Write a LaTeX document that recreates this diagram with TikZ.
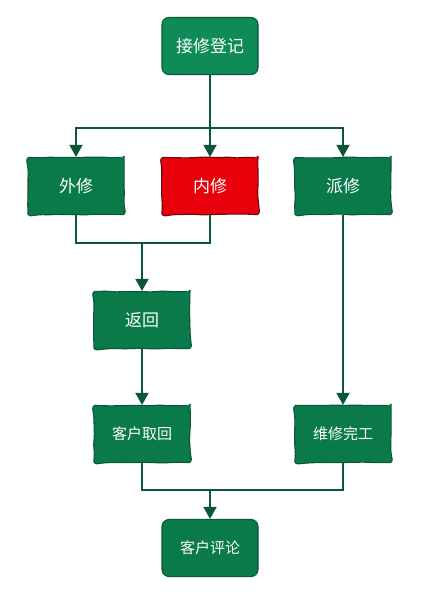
\documentclass[tikz,border=0pt]{standalone}
\usepackage{fontspec}
\newfontfamily\cjk{Noto Sans CJK SC}
\usetikzlibrary{arrows.meta,decorations.pathmorphing}

\definecolor{boxgreen}{HTML}{0B7A4B}
\definecolor{topgreen}{HTML}{0F8B58}
\definecolor{edgegreen}{HTML}{0A5636}
\definecolor{boxred}{HTML}{E8000B}
\definecolor{edgered}{HTML}{6E0A0A}

\tikzset{
  box/.style={draw=edgegreen, fill=boxgreen, line width=1.1pt, text=white,
    minimum width=96pt, minimum height=57pt, rounded corners=3pt,
    decorate, decoration={random steps, segment length=9pt, amplitude=0.5pt},
    font=\cjk\fontsize{15}{15}\selectfont},
  bigbox/.style={box, font=\cjk\fontsize{17}{17}\selectfont},
  endbox/.style={box, rounded corners=7pt, decorate=false},
  line/.style={draw=edgegreen, line width=1.5pt},
  arrow/.style={line, -{Triangle[length=12pt,width=13pt]}}
}

\begin{document}
\begin{tikzpicture}[x=1pt, y=-1pt]
    \useasboundingbox (0,0) rectangle (425,597);

    % Start
    \node[bigbox, endbox, fill=topgreen, font=\cjk\fontsize{17}{17}\selectfont] (reg) at (210,46) {接修登记};

    % Repair types
    \node[bigbox] (wai) at (76,186) {外修};
    \node[bigbox, fill=boxred, draw=edgered] (nei) at (210,186) {内修};
    \node[bigbox] (pai) at (343,186) {派修};

    % Return and pick-up
    \node[bigbox] (back) at (142,320) {返回};
    \node[box] (pick) at (142,434) {客户取回};
    \node[box] (done) at (343,434) {维修完工};

    % End
    \node[endbox] (review) at (210,548) {客户评论};

    % Split points
    \coordinate (fork) at (210,128);
    \coordinate (join1) at (142,243);
    \coordinate (join2) at (210,490);

    % Branches
    \draw[arrow] (reg.south) -- (fork) -| (wai.north);
    \draw[arrow] (reg.south) -- (nei.north);
    \draw[arrow] (fork) -| (pai.north);

    \draw[line] (wai.south) |- (join1) -| (nei.south);
    \draw[arrow] (join1) -- (back.north);
    \draw[arrow] (back.south) -- (pick.north);
    \draw[arrow] (pai.south) -- (done.north);

    \draw[line] (pick.south) |- (join2) -| (done.south);
    \draw[arrow] (join2) -- (review.north);
\end{tikzpicture}
\end{document}
